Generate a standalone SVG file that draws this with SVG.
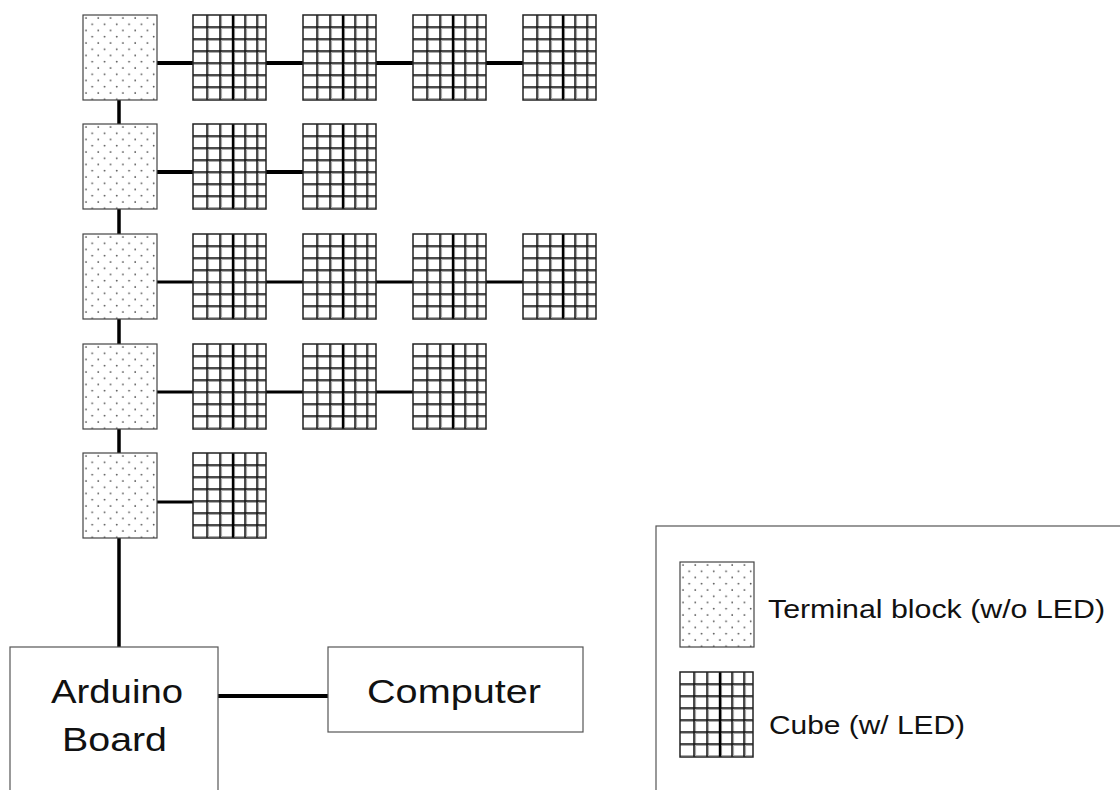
<svg xmlns="http://www.w3.org/2000/svg" xmlns:xlink="http://www.w3.org/1999/xlink" width="1120" height="790" viewBox="0 0 1120 790">
<style>
.box{fill:#fff;stroke:#555;stroke-width:1.2}
.conn{stroke:#000;fill:none}
.lbl{font-family:"Liberation Sans",Arial,sans-serif;fill:#111}
.gl{stroke:#111;stroke-width:1.5}
.gs{stroke:#aaa;stroke-width:1.2}
</style>
<defs>
<pattern id="dots" patternUnits="userSpaceOnUse" width="12.3" height="12.5">
<circle cx="3" cy="3" r="0.9" fill="#444"/>
<circle cx="9.2" cy="9.2" r="0.9" fill="#444"/>
</pattern>
<symbol id="term" viewBox="0 0 74 85" width="74" height="85" overflow="visible">
<rect x="0" y="0" width="74" height="85" fill="url(#dots)" stroke="#444" stroke-width="1.2"/>
</symbol>
<symbol id="cube" viewBox="0 0 73 85" width="73" height="85" overflow="visible">
<rect x="0" y="0" width="73" height="85" fill="#fff"/>
<path class="gs" d="M15.5 0V85M28.5 0V85M41.5 0V85M53.5 0V85M65.5 0V85M0 13.5H73M0 25.5H73M0 37.5H73M0 49.5H73M0 61.5H73M0 73.5H73M0 83.5H73"/>
<path class="gl" d="M14 0V85M27 0V85M52 0V85M64 0V85M0 12H73M0 24H73M0 36H73M0 48H73M0 60H73M0 72H73"/>
<path d="M40 0V85" stroke="#000" stroke-width="2.4"/>
<rect x="0" y="0" width="73" height="85" fill="none" stroke="#222" stroke-width="1.5"/>
</symbol>
</defs>
<rect width="1120" height="790" fill="#fff"/>
<g id="connectors">
<path class="conn" stroke-width="3.5" d="M119 100V124M119 209V234M119 319V344M119 429V453M119 538V647"/>
<path class="conn" stroke-width="4" d="M157 63H193M266 63H303M376 63H413M486 63H523"/>
<path class="conn" stroke-width="4" d="M157 172H193M266 172H303"/>
<path class="conn" stroke-width="3" d="M157 282H193M266 282H303M376 282H413M486 282H523"/>
<path class="conn" stroke-width="3" d="M157 392H193M266 392H303M376 392H413"/>
<path class="conn" stroke-width="3" d="M157 502H193"/>
<path class="conn" stroke-width="4" d="M218 696H328"/>
</g>
<g id="row1">
<g id="term1"><use xlink:href="#term" x="83" y="15"/></g>
<g id="cube1a"><use xlink:href="#cube" x="193" y="15"/></g>
<g id="cube1b"><use xlink:href="#cube" x="303" y="15"/></g>
<g id="cube1c"><use xlink:href="#cube" x="413" y="15"/></g>
<g id="cube1d"><use xlink:href="#cube" x="523" y="15"/></g>
</g>
<g id="row2">
<g id="term2"><use xlink:href="#term" x="83" y="124"/></g>
<g id="cube2a"><use xlink:href="#cube" x="193" y="124"/></g>
<g id="cube2b"><use xlink:href="#cube" x="303" y="124"/></g>
</g>
<g id="row3">
<g id="term3"><use xlink:href="#term" x="83" y="234"/></g>
<g id="cube3a"><use xlink:href="#cube" x="193" y="234"/></g>
<g id="cube3b"><use xlink:href="#cube" x="303" y="234"/></g>
<g id="cube3c"><use xlink:href="#cube" x="413" y="234"/></g>
<g id="cube3d"><use xlink:href="#cube" x="523" y="234"/></g>
</g>
<g id="row4">
<g id="term4"><use xlink:href="#term" x="83" y="344"/></g>
<g id="cube4a"><use xlink:href="#cube" x="193" y="344"/></g>
<g id="cube4b"><use xlink:href="#cube" x="303" y="344"/></g>
<g id="cube4c"><use xlink:href="#cube" x="413" y="344"/></g>
</g>
<g id="row5">
<g id="term5"><use xlink:href="#term" x="83" y="453"/></g>
<g id="cube5a"><use xlink:href="#cube" x="193" y="453"/></g>
</g>
<g id="arduino">
<rect class="box" x="10" y="647" width="208" height="170"/>
<text class="lbl" font-size="34" x="51" y="703" textLength="132" lengthAdjust="spacingAndGlyphs">Arduino</text>
<text class="lbl" font-size="34" x="62" y="751" textLength="105" lengthAdjust="spacingAndGlyphs">Board</text>
</g>
<g id="computer">
<rect class="box" x="328" y="647" width="255" height="85"/>
<text class="lbl" font-size="34" x="367" y="703" textLength="174" lengthAdjust="spacingAndGlyphs">Computer</text>
</g>
<g id="legend">
<rect class="box" x="656" y="526" width="480" height="300"/>
<use xlink:href="#term" x="680" y="562"/>
<use xlink:href="#cube" x="680" y="672"/>
<text class="lbl" font-size="26" x="768" y="618" textLength="337" lengthAdjust="spacingAndGlyphs">Terminal block (w/o LED)</text>
<text class="lbl" font-size="26" x="769" y="734" textLength="196" lengthAdjust="spacingAndGlyphs">Cube (w/ LED)</text>
</g>
</svg>
